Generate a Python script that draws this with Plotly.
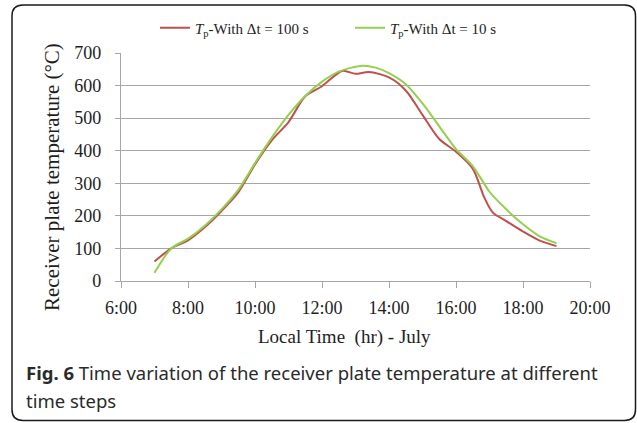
import plotly.graph_objects as go

# ---- data (hours, °C) ----
time_100s = [7, 7.5, 8, 8.5, 9, 9.5, 10, 10.5, 11, 11.5, 12, 12.6, 13.0, 13.4, 14, 14.5,
             15, 15.5, 16, 16.5, 16.85, 17.1, 17.5, 18, 18.5, 19]
temp_100s = [60, 100, 125, 165, 215, 272, 358, 432, 488, 567, 598, 645, 636, 642, 625, 585,
             510, 436, 397, 345, 255, 210, 184, 152, 124, 107]

time_10s = [7, 7.5, 8, 8.5, 9, 9.5, 10, 10.5, 11, 11.5, 12, 12.5, 13.2, 13.6, 14, 14.5,
            15, 15.5, 16, 16.5, 17, 17.5, 18, 18.5, 19]
temp_10s = [25, 100, 130, 170, 220, 280, 362, 440, 510, 568, 612, 643, 661, 655, 638, 604,
            545, 475, 405, 353, 274, 220, 174, 137, 116]

x_tickvals = [6, 8, 10, 12, 14, 16, 18, 20]
x_ticktext = ["6:00", "8:00", "10:00", "12:00", "14:00", "16:00", "18:00", "20:00"]

name_100s = "<i>T</i><sub>p</sub>-With Δt = 100 s"
name_10s = "<i>T</i><sub>p</sub>-With Δt = 10 s"

x_title = "Local Time  (hr) - July"
y_title = "Receiver plate temperature (°C)"

W, H = 637, 423
L, R, T, B = 121, 47, 53, 142
pw, ph = W - L - R, H - T - B

def px(x):
    return (x - L) / pw

def py(y):
    return (H - B - y) / ph

SERIF = "Liberation Serif, Times New Roman, serif"
SANS = "Noto Sans, Open Sans, sans-serif"
GRID = "#a6a6a6"
TXT = "#1e1e1e"

fig = go.Figure()
fig.add_trace(go.Scatter(x=time_100s, y=temp_100s, mode="lines", name=name_100s,
                         line=dict(color="#c0504d", width=2, shape="spline", smoothing=0.8)))
fig.add_trace(go.Scatter(x=time_10s, y=temp_10s, mode="lines", name=name_10s,
                         line=dict(color="#92d050", width=2, shape="spline", smoothing=0.8)))

# rounded frame around the figure (pixel coordinates converted to paper)
x0, y0, x1, y1, r = 12, 5, 635.5, 420.5, 11
path = (f"M {px(x0 + r)} {py(y0)} L {px(x1 - r)} {py(y0)} "
        f"Q {px(x1)} {py(y0)} {px(x1)} {py(y0 + r)} "
        f"L {px(x1)} {py(y1 - r)} Q {px(x1)} {py(y1)} {px(x1 - r)} {py(y1)} "
        f"L {px(x0 + r)} {py(y1)} Q {px(x0)} {py(y1)} {px(x0)} {py(y1 - r)} "
        f"L {px(x0)} {py(y0 + r)} Q {px(x0)} {py(y0)} {px(x0 + r)} {py(y0)} Z")

fig.update_layout(
    width=W, height=H,
    margin=dict(l=L, r=R, t=T, b=B),
    paper_bgcolor="white", plot_bgcolor="white",
    font=dict(family=SERIF, size=18, color=TXT),
    showlegend=True,
    legend=dict(orientation="h", x=px(155), xanchor="left", y=py(28), yanchor="middle",
                font=dict(family=SERIF, size=15, color=TXT),
                entrywidth=150, entrywidthmode="pixels", bgcolor="rgba(0,0,0,0)"),
    xaxis=dict(range=[6, 20], tickvals=x_tickvals, ticktext=x_ticktext,
               showgrid=False, zeroline=False, showline=True, linecolor=GRID, linewidth=1.3,
               ticks="outside", ticklen=6, tickcolor=GRID, tickwidth=1.3,
               ticklabelstandoff=4,
               tickfont=dict(family=SERIF, size=18, color=TXT)),
    yaxis=dict(range=[0, 700], dtick=100, showgrid=True, gridcolor=GRID, gridwidth=1.3,
               zeroline=False, showline=True, linecolor=GRID, linewidth=1.3,
               ticks="outside", ticklen=5, tickcolor=GRID, tickwidth=1.3,
               ticklabelstandoff=10,
               tickfont=dict(family=SERIF, size=18, color=TXT)),
    shapes=[dict(type="path", xref="paper", yref="paper", path=path,
                 line=dict(color="#1a1a1a", width=1.5), fillcolor="rgba(0,0,0,0)", layer="below")],
    annotations=[
        dict(xref="paper", yref="paper", x=px(344), y=py(336.5), xanchor="center", yanchor="middle",
             showarrow=False, text=x_title, font=dict(family=SERIF, size=19, color=TXT)),
        dict(xref="paper", yref="paper", x=px(51.5), y=py(177.5), xanchor="center", yanchor="middle",
             showarrow=False, text=y_title, textangle=-90,
             font=dict(family=SERIF, size=21, color=TXT)),
        dict(xref="paper", yref="paper", x=px(24), y=py(372), xanchor="left", yanchor="middle",
             showarrow=False, align="left",
             text="<b>Fig. 6</b> Time variation of the receiver plate temperature at different",
             font=dict(family=SANS, size=18.5, color="#2a2a2a")),
        dict(xref="paper", yref="paper", x=px(24), y=py(400), xanchor="left", yanchor="middle",
             showarrow=False, align="left", text="time steps",
             font=dict(family=SANS, size=18.5, color="#2a2a2a")),
    ],
)

fig.write_html("out.html")
